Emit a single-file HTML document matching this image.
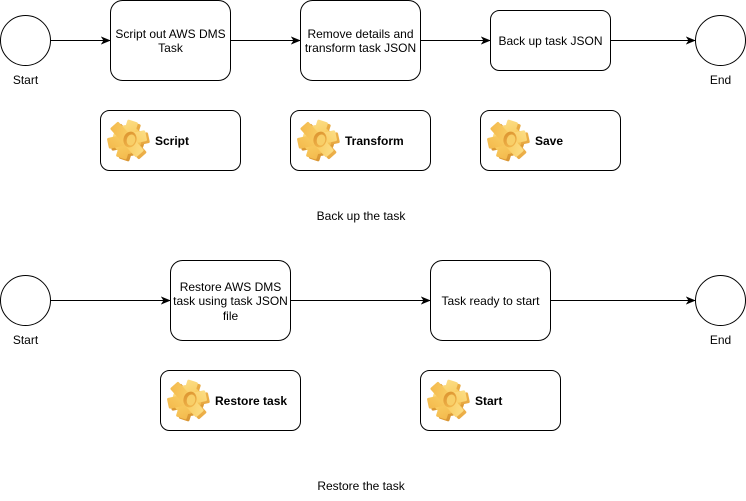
<!DOCTYPE html>
<html>
<head>
<meta charset="utf-8">
<style>
html,body{margin:0;padding:0;background:#fff;width:746px;height:501px;overflow:hidden}
svg{display:block}
text{font-family:"Liberation Sans",Arial,sans-serif;font-size:12px;fill:#000;text-anchor:middle}
.b{font-weight:bold;text-anchor:start}
.s{fill:#fff;stroke:#000;stroke-width:1}
.l{fill:none;stroke:#000;stroke-width:1}
</style>
</head>
<body>
<svg width="746" height="501" viewBox="0 0 746 501" xmlns="http://www.w3.org/2000/svg">
<defs>
<linearGradient id="g1" gradientUnits="userSpaceOnUse" x1="-16" y1="-18" x2="14" y2="18">
<stop offset="0" stop-color="#fde391"/>
<stop offset=".5" stop-color="#f9cd62"/>
<stop offset="1" stop-color="#f2b548"/>
</linearGradient>
<linearGradient id="g2" gradientUnits="userSpaceOnUse" x1="-14" y1="-16" x2="18" y2="18">
<stop offset="0" stop-color="#f0b44c"/>
<stop offset="1" stop-color="#d4902e"/>
</linearGradient>
<linearGradient id="g3" gradientUnits="userSpaceOnUse" x1="-6" y1="-7" x2="7" y2="7">
<stop offset="0" stop-color="#d98f2c"/>
<stop offset="1" stop-color="#f3b94f"/>
</linearGradient>
<g id="shape">
<circle r="14.5"/>
<g transform="rotate(18)">
<rect x="-5.5" y="-19.5" width="11" height="39" rx="1.5"/>
<rect x="-5.5" y="-19.5" width="11" height="39" rx="1.5" transform="rotate(60)"/>
<rect x="-5.5" y="-19.5" width="11" height="39" rx="1.5" transform="rotate(120)"/>
</g>
</g>
<g id="gear">
<use href="#shape" x="1.8" y="1.5" fill="url(#g2)"/>
<use href="#shape" x="-1" y="-0.5" fill="url(#g1)"/>
<ellipse cx="2" cy="-0.5" rx="6.5" ry="8" transform="rotate(15 2 -0.5)" fill="url(#g3)"/>
<ellipse cx="3" cy="0" rx="4.2" ry="5.6" transform="rotate(15 3 0)" fill="#f8cf68"/>
</g>
<marker id="a" markerUnits="userSpaceOnUse" markerWidth="10" markerHeight="10" refX="9" refY="5" orient="auto">
<path d="M0.5 1.5 L9 5 L0.5 8.5 L2.8 5 Z" fill="#000" stroke="#000" stroke-width="0.6"/>
</marker>
</defs>

<!-- Top row -->
<circle class="s" cx="25.5" cy="40.5" r="25"/>
<text x="25.5" y="84">Start</text>
<path class="l" d="M50.5 40.5H110" marker-end="url(#a)"/>
<rect class="s" x="110.5" y="0.5" width="120" height="80" rx="12" ry="12"/>
<text x="170.5" y="38">Script out AWS DMS</text>
<text x="170.5" y="52">Task</text>
<path class="l" d="M230.5 40.5H300" marker-end="url(#a)"/>
<rect class="s" x="300.5" y="0.5" width="120" height="80" rx="12" ry="12"/>
<text x="360.5" y="38">Remove details and</text>
<text x="360.5" y="52">transform task JSON</text>
<path class="l" d="M420.5 40.5H490" marker-end="url(#a)"/>
<rect class="s" x="490.5" y="10.5" width="120" height="60" rx="9" ry="9"/>
<text x="550.5" y="45">Back up task JSON</text>
<path class="l" d="M610.5 40.5H695" marker-end="url(#a)"/>
<circle class="s" cx="720.5" cy="40.5" r="25"/>
<text x="720.5" y="84">End</text>

<!-- Top tasks -->
<rect class="s" x="100.5" y="110.5" width="140" height="60" rx="9" ry="9"/>
<use href="#gear" x="128" y="140"/>
<text class="b" x="155" y="145">Script</text>
<rect class="s" x="290.5" y="110.5" width="140" height="60" rx="9" ry="9"/>
<use href="#gear" x="318" y="140"/>
<text class="b" x="345" y="145">Transform</text>
<rect class="s" x="480.5" y="110.5" width="140" height="60" rx="9" ry="9"/>
<use href="#gear" x="508" y="140"/>
<text class="b" x="535" y="145">Save</text>
<text x="361" y="220">Back up the task</text>

<!-- Bottom row -->
<circle class="s" cx="25.5" cy="300.5" r="25"/>
<text x="25.5" y="344">Start</text>
<path class="l" d="M50.5 300.5H170" marker-end="url(#a)"/>
<rect class="s" x="170.5" y="260.5" width="120" height="80" rx="12" ry="12"/>
<text x="230.5" y="291">Restore AWS DMS</text>
<text x="230.5" y="305">task using task JSON</text>
<text x="230.5" y="320">file</text>
<path class="l" d="M290.5 300.5H430" marker-end="url(#a)"/>
<rect class="s" x="430.5" y="260.5" width="120" height="80" rx="12" ry="12"/>
<text x="490.5" y="305">Task ready to start</text>
<path class="l" d="M550.5 300.5H695" marker-end="url(#a)"/>
<circle class="s" cx="720.5" cy="300.5" r="25"/>
<text x="720.5" y="344">End</text>

<!-- Bottom tasks -->
<rect class="s" x="160.5" y="370.5" width="140" height="60" rx="9" ry="9"/>
<use href="#gear" x="188" y="400"/>
<text class="b" x="215" y="405">Restore task</text>
<rect class="s" x="420.5" y="370.5" width="140" height="60" rx="9" ry="9"/>
<use href="#gear" x="448" y="400"/>
<text class="b" x="475" y="405">Start</text>
<text x="361" y="490">Restore the task</text>
</svg>
</body>
</html>
